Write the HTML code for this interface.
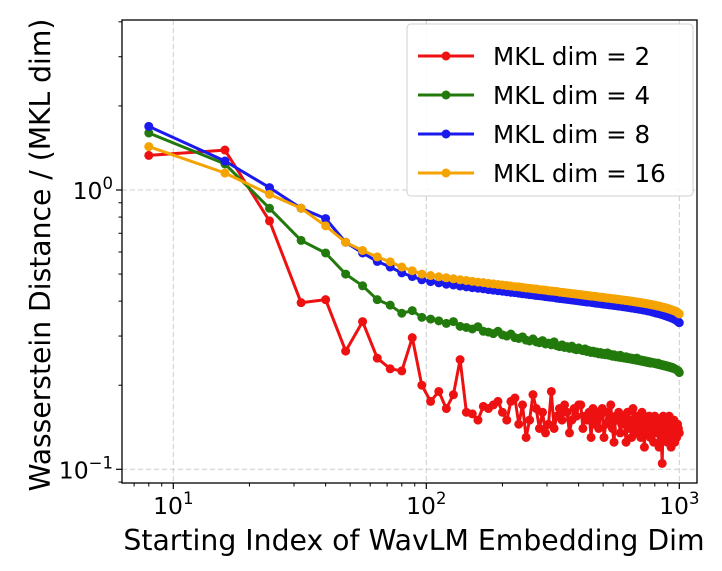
<!DOCTYPE html>
<html><head><meta charset="utf-8"><style>
body{margin:0;background:#fff}
svg text{font-family:"DejaVu Sans","Liberation Sans",sans-serif;fill:#000}
</style></head><body>
<svg id="chart" width="722" height="566" xmlns="http://www.w3.org/2000/svg">
<g id="grid"></g>
<g id="series"></g>
<g id="axes"></g>
<text x="414" y="550" font-size="28.3" text-anchor="middle">Starting Index of WavLM Embedding Dim</text>
<text transform="translate(50,255) rotate(-90)" font-size="28.2" text-anchor="middle">Wasserstein Distance / (MKL dim)</text>
<g id="legend"></g>
</svg>
<script>
const red=[1.33,1.39,0.775,0.395,0.405,0.265,0.338,0.25,0.229,0.225,0.296,0.2,0.175,
0.19,0.165,0.185,0.247,0.16,0.158,0.15,0.168,0.165,0.17,0.175,0.16,
0.15,0.175,0.18,0.145,0.17,0.13,0.15,0.185,0.165,0.14,0.16,0.135,0.145,0.19,0.14,0.155,0.165,0.15,0.17,0.16,0.135,0.15,0.165,0.155,0.17,
0.17,0.14,0.155,0.15,0.16,0.13,0.165,0.145,0.16,0.14,0.155,0.165,0.13,0.145,0.16,0.15,0.17,0.14,0.125,0.155,0.15,0.16,0.135,0.145,0.155,
0.145,0.125,0.16,0.14,0.15,0.13,0.165,0.145,0.135,0.155,0.14,0.15,0.13,0.16,0.14,0.12,0.15,0.145,0.135,0.155,0.13,0.15,0.14,0.125,0.155,
0.135,0.14,0.15,0.12,0.145,0.13,0.105,0.155,0.14,0.13,0.15,0.125,0.14,0.155,0.13,0.12,0.145,0.135,0.15,0.125,0.14,0.13,0.145,0.14,0.135];
const green=[1.60,1.24,0.86,0.66,0.595,0.50,0.454,0.405,0.387,0.362,0.37,0.35,
0.345,0.34,0.333,0.338,0.325,0.322,0.318,0.324,0.312,0.31,0.306,0.312,0.303,
0.3,0.305,0.296,0.294,0.298,0.29,0.288,0.293,0.286,0.284,0.289,0.281,0.283,0.279,0.286,0.277,0.275,0.279,0.273,0.275,0.271,0.276,0.27,0.268,0.272,
0.268,0.266,0.27,0.264,0.266,0.262,0.265,0.261,0.263,0.259,0.262,0.258,0.26,0.257,0.261,0.256,0.258,0.254,0.257,0.253,0.255,0.252,0.256,0.251,0.253,
0.25,0.253,0.249,0.251,0.248,0.25,0.247,0.249,0.246,0.25,0.245,0.247,0.244,0.246,0.243,0.245,0.242,0.244,0.241,0.243,0.24,0.242,0.24,0.241,0.239,
0.24,0.238,0.24,0.237,0.238,0.236,0.237,0.235,0.236,0.234,0.235,0.233,0.234,0.232,0.233,0.231,0.232,0.23,0.23,0.229,0.228,0.227,0.226,0.225,0.222];
const blue=[1.69,1.27,1.02,0.86,0.79,0.65,0.595,0.555,0.53,0.505,0.49,0.477,
0.47,0.465,0.46,0.457,0.453,0.45,0.447,0.445,0.443,0.44,0.438,0.436,0.434,
0.432,0.43,0.429,0.427,0.425,0.424,0.422,0.421,0.419,0.418,0.417,0.415,0.414,0.413,0.412,0.41,0.409,0.408,0.407,0.406,0.405,0.404,0.403,0.402,0.401,
0.4,0.399,0.398,0.397,0.397,0.396,0.395,0.394,0.393,0.393,0.392,0.391,0.39,0.39,0.389,0.388,0.388,0.387,0.386,0.386,0.385,0.384,0.384,0.383,0.382,
0.382,0.381,0.38,0.38,0.379,0.378,0.378,0.377,0.376,0.376,0.375,0.374,0.374,0.373,0.372,0.372,0.371,0.37,0.369,0.369,0.368,0.367,0.366,0.365,0.364,
0.363,0.362,0.362,0.361,0.36,0.359,0.358,0.357,0.356,0.355,0.354,0.353,0.352,0.351,0.35,0.349,0.348,0.347,0.346,0.344,0.343,0.341,0.339,0.337,0.335];
const orange=[1.43,1.15,0.965,0.86,0.744,0.65,0.607,0.576,0.553,0.53,0.514,0.5,
0.494,0.489,0.485,0.481,0.477,0.474,0.471,0.468,0.466,0.463,0.461,0.459,0.457,
0.455,0.453,0.451,0.45,0.448,0.446,0.445,0.443,0.442,0.44,0.439,0.438,0.436,0.435,0.434,0.433,0.431,0.43,0.429,0.428,0.427,0.426,0.425,0.424,0.423,
0.422,0.421,0.42,0.419,0.418,0.417,0.417,0.416,0.415,0.414,0.413,0.413,0.412,0.411,0.41,0.41,0.409,0.408,0.408,0.407,0.406,0.406,0.405,0.404,0.404,
0.403,0.402,0.402,0.401,0.4,0.4,0.399,0.398,0.398,0.397,0.396,0.396,0.395,0.394,0.394,0.393,0.392,0.392,0.391,0.39,0.39,0.389,0.388,0.387,0.387,
0.386,0.385,0.384,0.384,0.383,0.382,0.381,0.38,0.379,0.379,0.378,0.377,0.376,0.375,0.374,0.373,0.372,0.371,0.37,0.369,0.368,0.366,0.364,0.362,0.36];
const xStep=8;
const seriesNames=["MKL dim = 2","MKL dim = 4","MKL dim = 8","MKL dim = 16"];
const xTickExp=[1,2,3];
const yTickExp=[0,-1];

const NS="http://www.w3.org/2000/svg";
const L=122,R=697,T=20,B=483;
const X0=173.3,XD=253, Y0=190, YD=279.3;
function sx(v){return X0+(Math.log10(v)-1)*XD;}
function sy(v){return Y0-Math.log10(v)*YD;}
function mk(tag,attrs,parent){const e=document.createElementNS(NS,tag);for(const k in attrs)e.setAttribute(k,attrs[k]);parent.appendChild(e);return e;}
const grid=document.getElementById('grid'),axes=document.getElementById('axes'),ser=document.getElementById('series'),leg=document.getElementById('legend');
mk('rect',{x:0,y:0,width:722,height:566,fill:'#fff'},grid);
xTickExp.forEach(e=>{const x=sx(Math.pow(10,e));
 const g=mk('line',{x1:x,x2:x,y1:T,y2:B,stroke:'#ccc','stroke-dasharray':'5,3','stroke-width':1},grid);
 
 mk('line',{x1:x,x2:x,y1:B,y2:B+6,stroke:'#000','stroke-width':1.2},axes);
 const t=mk('text',{x:x,y:B+31,'font-size':23.5,'text-anchor':'middle'},axes);
 
 t.innerHTML='10<tspan dy="-10" font-size="16.5">'+e+'</tspan>';
});
for(let d=0;d<=3;d++)for(let m=2;m<=9;m++){const v=m*Math.pow(10,d);const x=sx(v);if(x<L||x>R)continue;
 mk('line',{x1:x,x2:x,y1:B,y2:B+3.5,stroke:'#000','stroke-width':1},axes);}
yTickExp.forEach(e=>{const y=sy(Math.pow(10,e));
 const g=mk('line',{x1:L,x2:R,y1:y,y2:y,stroke:'#ccc','stroke-dasharray':'5,3','stroke-width':1},grid);
 
 mk('line',{x1:L-6,x2:L,y1:y,y2:y,stroke:'#000','stroke-width':1.2},axes);
 const t=mk('text',{x:L-9,y:y+9,'font-size':23.5,'text-anchor':'end'},axes);
 
 t.innerHTML='10<tspan dy="-10" font-size="16.5">'+(e<0?'\u2212'+(-e):e)+'</tspan>';
});
for(let d=-2;d<=0;d++)for(let m=2;m<=9;m++){const v=m*Math.pow(10,d);const y=sy(v);if(y<T||y>B)continue;
 mk('line',{x1:L-3.5,x2:L,y1:y,y2:y,stroke:'#000','stroke-width':1},axes);}
const fr=mk('rect',{x:L,y:T,width:R-L,height:B-T,fill:'none',stroke:'#000','stroke-width':1.3},axes);


const data=[red,green,blue,orange],cols=['#ee1111','#237a0c','#1a1aee','#f5a300'];
const clip=mk('clipPath',{id:'cp'},ser);mk('rect',{x:L,y:T,width:R-L,height:B-T},clip);
data.forEach((arr,si)=>{
 const g=mk('g',{'clip-path':'url(#cp)'},ser);
 
 const pts=arr.map((v,i)=>sx((i+1)*xStep).toFixed(1)+','+sy(v).toFixed(1)).join(' ');
 mk('polyline',{points:pts,fill:'none',stroke:cols[si],'stroke-width':3,'stroke-linejoin':'round'},g);
 arr.forEach((v,i)=>{const c=mk('circle',{cx:sx((i+1)*xStep),cy:sy(v),r:4.5,fill:cols[si]},g);
  });
});
const lb=mk('rect',{x:407,y:24,width:286,height:172,rx:4,fill:'#fff','fill-opacity':0.85,stroke:'#d0d0d0','stroke-width':1},leg);
seriesNames.forEach((n,i)=>{const y=56+i*39;
 const g=mk('g',{},leg);
 mk('line',{x1:418,x2:474,y1:y,y2:y,stroke:cols[i],'stroke-width':3},g);
 mk('circle',{cx:446,cy:y,r:4.5,fill:cols[i]},g);
 const t=mk('text',{x:493,y:y+9,'font-size':24.6},g);t.textContent=n;
});
</script>
</body></html>
